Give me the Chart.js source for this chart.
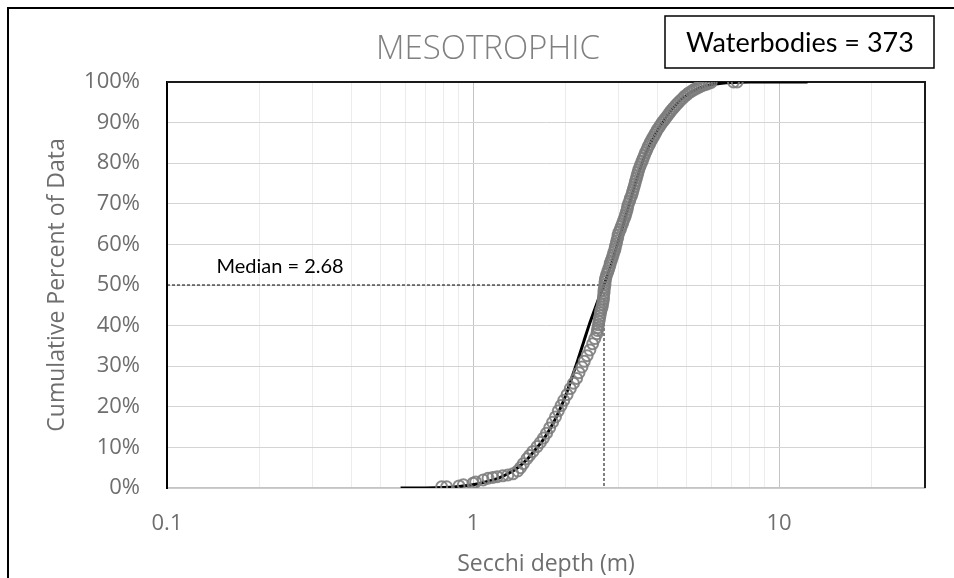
<!DOCTYPE html>
<html>
<head>
<meta charset="utf-8">
<title>Mesotrophic Secchi depth</title>
<script src="https://cdn.jsdelivr.net/npm/chart.js@4/dist/chart.umd.min.js"></script>
<style>
  html, body { margin: 0; padding: 0; background: #fff; }
  canvas { display: block; }
</style>
</head>
<body>
<canvas id="chart" width="954" height="578"></canvas>
<script>
'use strict';
// observed lakes (grey circles)
const secchiObs = [0.79, 0.82, 0.9, 0.93, 1.0, 1.02, 1.08, 1.12, 1.16, 1.2, 1.25, 1.3, 1.35, 1.4, 1.43, 1.46,
  1.5, 1.53, 1.57, 1.62, 1.66, 1.7, 1.74, 1.78, 1.82, 1.86, 1.9, 1.94, 1.98, 2.03, 2.08, 2.13, 2.18, 2.22,
  2.27, 2.31, 2.36, 2.41, 2.46, 2.5,
  2.54, 2.55, 2.56, 2.57, 2.58, 2.59, 2.6, 2.61, 2.62, 2.64, 2.65, 2.66, 2.67, 2.67, 2.68, 2.68, 2.69, 2.7,
  2.7, 2.71, 2.72, 2.74, 2.76, 2.78, 2.8, 2.81, 2.83, 2.85, 2.87, 2.89, 2.91, 2.92, 2.94, 2.95, 2.97, 2.98,
  3.0, 3.03, 3.05, 3.08, 3.1, 3.13, 3.15, 3.17, 3.19, 3.2, 3.22, 3.25, 3.27, 3.3, 3.32, 3.34, 3.36, 3.38,
  3.4, 3.42, 3.44, 3.46, 3.48, 3.51, 3.54, 3.57, 3.6, 3.63, 3.66, 3.7, 3.73, 3.77, 3.8, 3.84, 3.88, 3.92,
  3.96, 4.0, 4.05, 4.1, 4.15, 4.2, 4.25, 4.3, 4.35, 4.4, 4.45, 4.51, 4.57, 4.63, 4.7, 4.77, 4.85, 4.92,
  5.0, 5.07, 5.15, 5.22, 5.3, 5.4, 5.5, 5.6, 5.7, 5.8, 5.9, 6.0, 7.1, 7.3];
const cumPctObs = [0.3, 0.3, 0.5, 0.8, 1.2, 1.5, 2.0, 2.4, 2.6, 2.8, 3.0, 3.2, 3.5, 4.2, 5.0, 6.0,
  7.2, 8.0, 9.0, 10.2, 11.2, 12.3, 13.5, 14.8, 16.2, 17.5, 19.0, 20.3, 21.6, 23.0, 24.5, 25.8, 27.0, 28.4,
  29.8, 31.2, 32.6, 34.0, 35.5, 36.8,
  38.0, 38.8, 39.5, 40.2, 41.0, 41.7, 42.4, 43.1, 43.8, 44.5, 45.2, 45.9, 46.6, 47.3, 48.0, 48.7, 49.4, 50.1,
  50.8, 51.4, 52.0, 52.7, 53.4, 54.1, 54.8, 55.4, 56.0, 56.7, 57.4, 58.1, 58.8, 59.5, 60.2, 60.9, 61.6, 62.3,
  63.0, 63.7, 64.4, 65.1, 65.8, 66.5, 67.2, 67.9, 68.6, 69.3, 70.0, 70.7, 71.4, 72.1, 72.8, 73.5, 74.2, 74.9,
  75.6, 76.3, 77.0, 77.7, 78.4, 79.1, 79.8, 80.5, 81.2, 81.9, 82.6, 83.3, 84.0, 84.6, 85.2, 85.8, 86.4, 87.0,
  87.6, 88.2, 88.8, 89.4, 90.0, 90.5, 91.0, 91.5, 92.0, 92.5, 93.0, 93.5, 94.0, 94.5, 95.0, 95.5, 96.0, 96.5,
  96.9, 97.3, 97.6, 97.9, 98.2, 98.5, 98.8, 99.1, 99.3, 99.5, 99.7, 99.9, 100, 100];

// fitted curve (black line)
const secchiFit = [0.58, 0.7, 0.8, 0.9, 1.0, 1.1, 1.2, 1.3, 1.4, 1.5, 1.6, 1.7, 1.8, 1.9, 2.0, 2.1, 2.2, 2.3,
  2.4, 2.5, 2.6, 2.68, 2.8, 2.95, 3.1, 3.2, 3.35, 3.5, 3.7, 3.9, 4.2, 4.5, 4.8, 5.2, 5.6, 6.0, 6.5, 7.0, 8.0,
  10.0, 12.4];
const cumPctFit = [0, 0, 0.1, 0.4, 0.8, 1.5, 2.3, 3.5, 5.0, 7.0, 9.5, 12.0, 15.0, 18.5, 22.4, 27.0, 31.5, 36.0,
  40.3, 44.0, 47.5, 50.0, 54.0, 59.5, 65.0, 68.5, 73.5, 78.0, 83.0, 86.5, 90.5, 93.5, 95.8, 97.6, 98.7, 99.3,
  99.7, 99.9, 100, 100, 100];

// median guide
const medianValue = 2.68;
const medianX = [0.1, medianValue, medianValue];
const medianY = [50, 50, 0];

// axes
const xGridValues = [0.1, 0.2, 0.3, 0.4, 0.5, 0.6, 0.7, 0.8, 0.9, 1, 2, 3, 4, 5, 6, 7, 8, 9, 10, 20, 30];
const xMajor = [0.1, 1, 10];
const xTickLabels = ['0.1', '1', '10'];
const yTicks = [0, 10, 20, 30, 40, 50, 60, 70, 80, 90, 100];

const waterbodies = 373;

function toPoints(xs, ys) {
  return xs.map((x, i) => ({x: x, y: ys[i]}));
}

const greyText = '#6e6e6e';

// page frame, plot frame and the text pieces
const decorations = {
  id: 'decorations',
  beforeDraw(chart) {
    const c = chart.ctx;
    c.save();
    c.fillStyle = '#fff';
    c.fillRect(0, 0, chart.width, chart.height);
    c.strokeStyle = '#000';
    c.lineWidth = 2;
    c.beginPath();
    c.moveTo(8, chart.height);
    c.lineTo(8, 8);
    c.lineTo(chart.width, 8);
    c.stroke();
    c.restore();
  },
  beforeDatasetsDraw(chart) {
    const a = chart.chartArea;
    const c = chart.ctx;
    c.save();
    c.strokeStyle = '#1a1a1a';
    c.lineWidth = 2;
    c.beginPath();
    c.moveTo(a.left, a.top);
    c.lineTo(a.right, a.top);
    c.lineTo(a.right, a.bottom);
    c.stroke();
    c.restore();
  },
  afterDraw(chart) {
    const c = chart.ctx;
    const xs = chart.scales.x;
    const ys = chart.scales.y;
    c.save();
    // title
    c.fillStyle = '#808080';
    c.font = '300 33px "Open Sans"';
    c.textAlign = 'center';
    c.textBaseline = 'middle';
    c.fillText('MESOTROPHIC', 488, 50);
    // count box
    c.fillStyle = '#fff';
    c.fillRect(665, 16, 269, 52);
    c.strokeStyle = '#000';
    c.lineWidth = 1.5;
    c.strokeRect(665, 16, 269, 52);
    c.fillStyle = '#000';
    c.font = '27px Lato';
    c.fillText('Waterbodies = ' + waterbodies, 800, 43);
    // median label
    c.font = '20px Lato';
    c.textAlign = 'left';
    c.fillText('Median = ' + medianValue.toFixed(2), xs.getPixelForValue(0.145), ys.getPixelForValue(54.6));
    c.restore();
  }
};

const ctx = document.getElementById('chart').getContext('2d');
new Chart(ctx, {
  type: 'scatter',
  data: {
    datasets: [
      {
        label: 'Observed',
        data: toPoints(secchiObs, cumPctObs),
        showLine: false,
        pointRadius: 5.5,
        pointBorderWidth: 2,
        pointBorderColor: 'rgba(125,125,125,0.9)',
        pointBackgroundColor: 'rgba(255,255,255,0)'
      },
      {
        label: 'Fit',
        data: toPoints(secchiFit, cumPctFit),
        showLine: true,
        borderColor: '#000',
        borderWidth: 3,
        pointRadius: 0,
        cubicInterpolationMode: 'monotone'
      },
      {
        label: 'Median',
        data: toPoints(medianX, medianY),
        showLine: true,
        borderColor: '#000',
        borderWidth: 1,
        borderDash: [3, 2],
        pointRadius: 0
      }
    ]
  },
  options: {
    responsive: false,
    animation: false,
    layout: {padding: {left: 0, top: 82, right: 29, bottom: 0}},
    plugins: {
      legend: {display: false},
      tooltip: {enabled: false}
    },
    scales: {
      x: {
        type: 'logarithmic',
        min: 0.1,
        max: 30,
        afterFit(scale) { scale.height = 90; },
        afterBuildTicks(scale) {
          scale.ticks = xGridValues.map(v => ({value: v, major: xMajor.includes(v)}));
        },
        ticks: {
          autoSkip: false,
          maxRotation: 0,
          padding: 23,
          color: greyText,
          font: {family: '"Open Sans"', size: 22},
          callback(value) {
            const i = xMajor.indexOf(value);
            return i >= 0 ? xTickLabels[i] : '';
          }
        },
        grid: {
          drawTicks: false,
          color(c) {
            if (!c.tick) return '#ececec';
            return xMajor.includes(c.tick.value) ? '#c4c4c4' : '#ececec';
          },
          lineWidth: 1
        },
        border: {color: '#c4c4c4', width: 1.5},
        title: {
          display: true,
          text: 'Secchi depth (m)',
          color: greyText,
          font: {family: '"Open Sans"', size: 23},
          padding: 0
        }
      },
      y: {
        min: 0,
        max: 100,
        afterFit(scale) { scale.width = 167; },
        afterBuildTicks(scale) {
          scale.ticks = yTicks.map(v => ({value: v}));
        },
        ticks: {
          padding: 27,
          color: greyText,
          font: {family: '"Open Sans"', size: 22},
          callback(value) { return value + '%'; }
        },
        grid: {
          drawTicks: false,
          color: '#d4d4d4',
          lineWidth: 1
        },
        border: {color: '#000', width: 2},
        title: {
          display: true,
          text: 'Cumulative Percent of Data',
          color: greyText,
          font: {family: '"Open Sans"', size: 23},
          padding: 44
        }
      }
    }
  },
  plugins: [decorations]
});
</script>
</body>
</html>
